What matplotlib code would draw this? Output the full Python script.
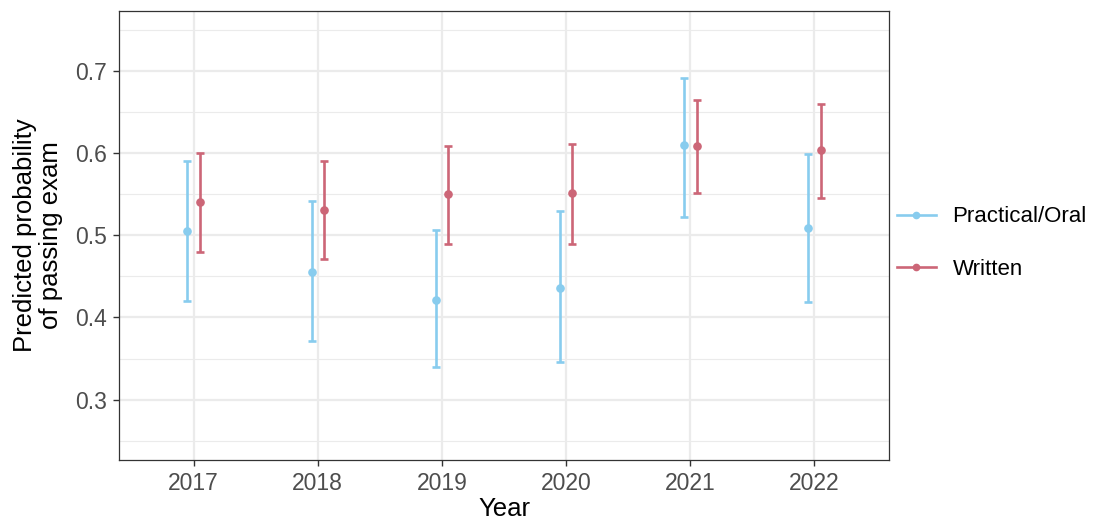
import matplotlib
matplotlib.use("Agg")
import matplotlib.pyplot as plt
from matplotlib.ticker import MultipleLocator
from matplotlib.lines import Line2D
import numpy as np

years = ["2017", "2018", "2019", "2020", "2021", "2022"]
oral_est = [0.505, 0.455, 0.421, 0.436, 0.610, 0.509]
oral_lo = [0.420, 0.371, 0.340, 0.346, 0.522, 0.419]
oral_hi = [0.590, 0.542, 0.507, 0.530, 0.691, 0.599]
written_est = [0.540, 0.531, 0.550, 0.551, 0.609, 0.604]
written_lo = [0.480, 0.471, 0.489, 0.489, 0.551, 0.545]
written_hi = [0.600, 0.591, 0.609, 0.611, 0.665, 0.660]
series_names = ["Practical/Oral", "Written"]

colors = ["#88CCEE", "#CC6677"]

plt.rcParams['font.family'] = ['Liberation Sans', 'DejaVu Sans']

fig = plt.figure(figsize=(10.97, 5.21), dpi=100)
ax = fig.add_axes([119/1097, 1 - 460/521, (889-119)/1097, (460-11)/521])

x = np.arange(1, len(years) + 1)
dodge = 0.05
for i, (est, lo, hi) in enumerate([(oral_est, oral_lo, oral_hi),
                                   (written_est, written_lo, written_hi)]):
    est = np.array(est); lo = np.array(lo); hi = np.array(hi)
    xs = x + (-dodge if i == 0 else dodge)
    ax.errorbar(xs, est, yerr=[est - lo, hi - est], fmt='o', color=colors[i],
                ecolor=colors[i], elinewidth=1.9, capsize=2.6, capthick=1.9,
                markersize=5.2, zorder=3)

ax.set_xlim(0.4, 6.6)
ax.set_ylim(0.2265, 0.773)
ax.set_xticks(x)
ax.set_xticklabels(years)
ax.yaxis.set_major_locator(MultipleLocator(0.1))
ax.yaxis.set_minor_locator(MultipleLocator(0.05))
ax.set_yticks([0.3, 0.4, 0.5, 0.6, 0.7])
ax.set_yticklabels(["0.3", "0.4", "0.5", "0.6", "0.7"])

ax.grid(which='major', color='#EBEBEB', linewidth=1.6, zorder=0)
ax.grid(which='minor', axis='y', color='#EBEBEB', linewidth=0.8, zorder=0)
ax.set_axisbelow(True)
for s in ax.spines.values():
    s.set_color('#333333')
    s.set_linewidth(0.9)
ax.tick_params(which='major', length=4, width=1, color='#333333',
               labelsize=16.5, labelcolor='#4D4D4D', pad=4.5)
ax.tick_params(which='minor', length=0)

ax.set_xlabel("Year", fontsize=18.5, color='black', labelpad=1.5)
ax.set_ylabel("Predicted probability\nof passing exam", fontsize=18.5,
              color='black', labelpad=9, linespacing=1.1)

handles = [Line2D([0], [0], color=c, lw=1.9, marker='o', markersize=4.5)
           for c in colors]
leg = fig.legend(handles, series_names, loc='center left',
                 bbox_to_anchor=(877/1097, 1 - 243/521), frameon=False,
                 fontsize=16, handlelength=1.75, labelspacing=1.4,
                 handletextpad=0.75)

fig.savefig("out.png", dpi=100)
